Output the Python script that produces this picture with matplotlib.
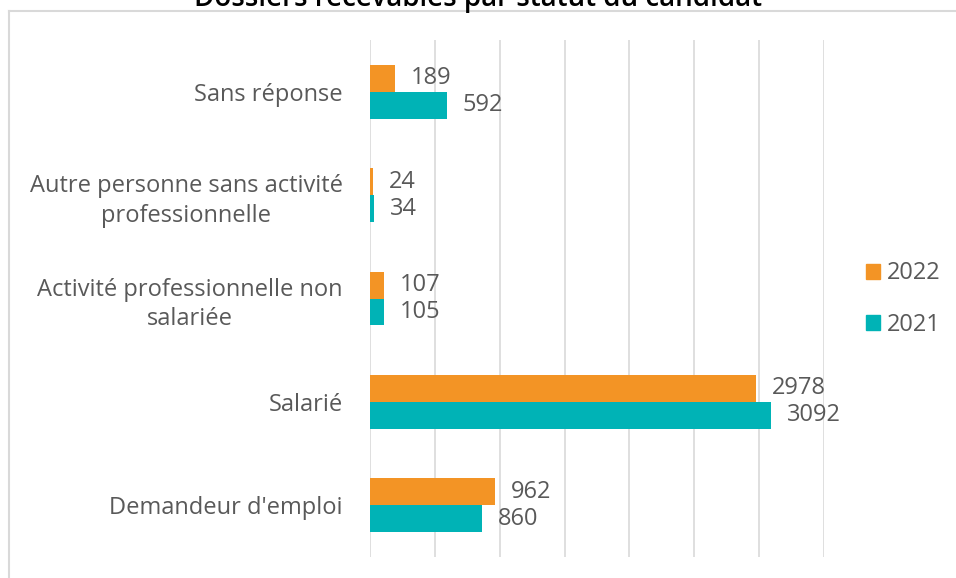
import matplotlib
matplotlib.use("Agg")
import matplotlib.pyplot as plt
from matplotlib.lines import Line2D
from matplotlib.patches import Rectangle
import numpy as np

categories = ["Sans réponse",
              "Autre personne sans activité\nprofessionnelle",
              "Activité professionnelle non\nsalariée",
              "Salarié",
              "Demandeur d'emploi"]
values_2022 = [189, 24, 107, 2978, 962]
values_2021 = [592, 34, 105, 3092, 860]
series_names = ["2022", "2021"]
title = "Dossiers recevables par statut du candidat"

W, H = 956, 578
plt.rcParams['font.family'] = ['Open Sans', 'DejaVu Sans']
fig = plt.figure(figsize=(W / 100, H / 100), dpi=100)

ax = fig.add_axes([370 / W, 1 - 557 / H, (824 - 370) / W, (557 - 40) / H])

c2022 = "#F39425"
c2021 = "#00B3B6"
text_col = "#595959"
fs = 17

n = len(categories)
y = np.arange(n)[::-1]  # top to bottom
h = 0.26
b1 = ax.barh(y + h / 2, values_2022, height=h, color=c2022, zorder=3)
b2 = ax.barh(y - h / 2, values_2021, height=h, color=c2021, zorder=3)

for bars, vals in ((b1, values_2022), (b2, values_2021)):
    for bar, v in zip(bars, vals):
        ax.annotate(f"{v}", xy=(bar.get_width(), bar.get_y() + bar.get_height() / 2),
                    xytext=(16, 0), textcoords="offset pixels",
                    va="center", ha="left", fontsize=fs, color=text_col)

ax.set_xlim(0, 3500)
ax.set_ylim(-0.5, n - 0.5)
ax.set_xticks(np.arange(0, 3501, 500))
ax.xaxis.grid(True, color="#d9d9d9", linewidth=1.2, zorder=0)
ax.tick_params(axis="x", length=0, labelbottom=False)
ax.tick_params(axis="y", length=0, pad=19.5)
ax.set_yticks(y)
ax.set_yticklabels(categories, fontsize=fs, color=text_col, multialignment="center",
                   linespacing=1.33)
for s in ax.spines.values():
    s.set_visible(False)

# legend
handles = [Rectangle((0, 0), 1, 1, color=c2022), Rectangle((0, 0), 1, 1, color=c2021)]
leg = fig.legend(handles, series_names, loc="center left",
                 bbox_to_anchor=(849 / W, 1 - 299 / H), frameon=False,
                 fontsize=fs, labelcolor=text_col, handlelength=0.6, handleheight=0.6,
                 handletextpad=0.3, labelspacing=1.15, borderpad=0.2)

# chart frame
fig.add_artist(Line2D([9 / W, 1.0], [1 - 11 / H, 1 - 11 / H], color="#d9d9d9", linewidth=1.5,
                      transform=fig.transFigure))
fig.add_artist(Line2D([9 / W, 9 / W], [0, 1 - 11 / H], color="#d9d9d9", linewidth=1.5,
                      transform=fig.transFigure))

fig.text(0.5, 1 - 6 / H, title, ha="center", va="baseline", fontsize=20,
         fontweight="semibold", color="black")

fig.savefig("out.png", dpi=100)
